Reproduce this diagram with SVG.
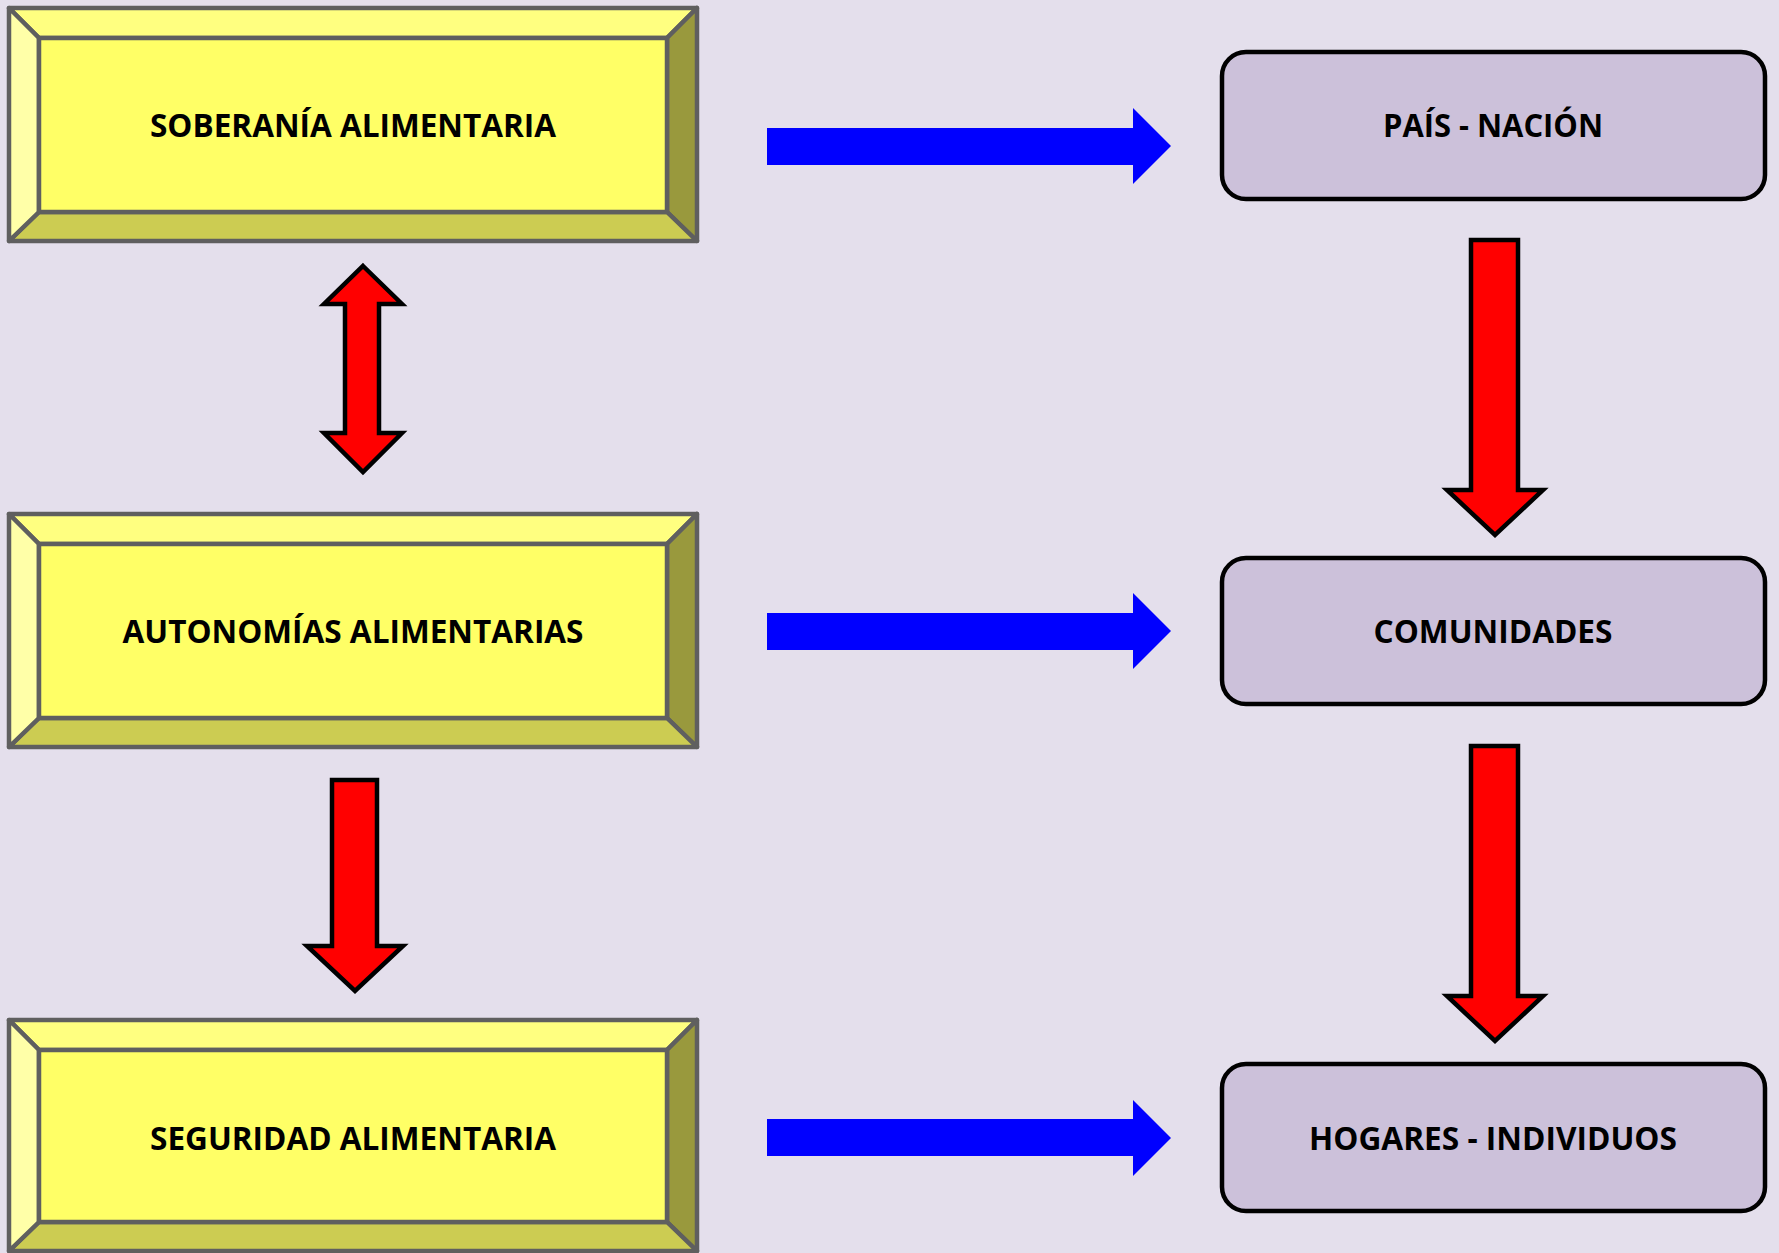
<svg xmlns="http://www.w3.org/2000/svg" width="1779" height="1253" viewBox="0 0 1779 1253">
<style>
.bg{fill:#E4DFEC}
.bev{stroke:#5F5F5F;stroke-width:4.5;stroke-linejoin:round}
.tp{fill:#FFFF80}
.lf{fill:#FFFFA8}
.bt{fill:#CCCC52}
.rt{fill:#99993D}
.fc{fill:#FFFF66}
.lav{fill:#CCC1DA;stroke:#000;stroke-width:4.5}
.t{font-family:"Open Sans","Liberation Sans",sans-serif;font-weight:700;font-size:33px;fill:#000;text-anchor:middle}
.blue{fill:#0000FF}
.red{fill:#FF0000;stroke:#000;stroke-width:4.5;stroke-linejoin:miter}
</style>
<rect class="bg" x="0" y="0" width="1779" height="1253"/>

<g id="soberania">
<polygon class="bev tp" points="9,8 697,8 667,38 39,38"/>
<polygon class="bev rt" points="697,8 697,241 667,212 667,38"/>
<polygon class="bev bt" points="697,241 9,241 39,212 667,212"/>
<polygon class="bev lf" points="9,241 9,8 39,38 39,212"/>
<rect class="bev fc" x="39" y="38" width="628" height="174"/>
<text class="t" x="353" y="137" textLength="406" lengthAdjust="spacingAndGlyphs">SOBERANÍA ALIMENTARIA</text>
</g>

<g id="autonomias">
<polygon class="bev tp" points="9,514 697,514 667,544 39,544"/>
<polygon class="bev rt" points="697,514 697,747 667,718 667,544"/>
<polygon class="bev bt" points="697,747 9,747 39,718 667,718"/>
<polygon class="bev lf" points="9,747 9,514 39,544 39,718"/>
<rect class="bev fc" x="39" y="544" width="628" height="174"/>
<text class="t" x="353" y="643" textLength="461" lengthAdjust="spacingAndGlyphs">AUTONOMÍAS ALIMENTARIAS</text>
</g>

<g id="seguridad">
<polygon class="bev tp" points="9,1020 697,1020 667,1050 39,1050"/>
<polygon class="bev rt" points="697,1020 697,1251 667,1222 667,1050"/>
<polygon class="bev bt" points="697,1251 9,1251 39,1222 667,1222"/>
<polygon class="bev lf" points="9,1251 9,1020 39,1050 39,1222"/>
<rect class="bev fc" x="39" y="1050" width="628" height="172"/>
<text class="t" x="353" y="1150" textLength="406" lengthAdjust="spacingAndGlyphs">SEGURIDAD ALIMENTARIA</text>
</g>

<g id="pais">
<rect class="lav" x="1222" y="52" width="543" height="147" rx="24"/>
<text class="t" x="1493" y="137" textLength="220" lengthAdjust="spacingAndGlyphs">PAÍS - NACIÓN</text>
</g>

<g id="comunidades">
<rect class="lav" x="1222" y="558" width="543" height="146" rx="24"/>
<text class="t" x="1493" y="643" textLength="239" lengthAdjust="spacingAndGlyphs">COMUNIDADES</text>
</g>

<g id="hogares">
<rect class="lav" x="1222" y="1064" width="543" height="147" rx="24"/>
<text class="t" x="1493" y="1150" textLength="368" lengthAdjust="spacingAndGlyphs">HOGARES - INDIVIDUOS</text>
</g>

<g id="connectors">
<path class="blue" d="M767,128 H1133 V108 L1171,146 L1133,184 V165 H767 Z"/>
<path class="blue" d="M767,613 H1133 V593 L1171,631 L1133,669 V650 H767 Z"/>
<path class="blue" d="M767,1119 H1133 V1100 L1171,1138 L1133,1176 V1156 H767 Z"/>
<path class="red" d="M363,266 L402,304 H379 V433 H402 L363,472 L324,433 H345 V304 H324 Z"/>
<path class="red" d="M332,780 H377 V946 H403 L355,991 L307,946 H332 Z"/>
<path class="red" d="M1471,240 H1518 V490 H1543 L1495,535 L1447,490 H1471 Z"/>
<path class="red" d="M1471,746 H1518 V996 H1543 L1495,1041 L1447,996 H1471 Z"/>
</g>
</svg>
